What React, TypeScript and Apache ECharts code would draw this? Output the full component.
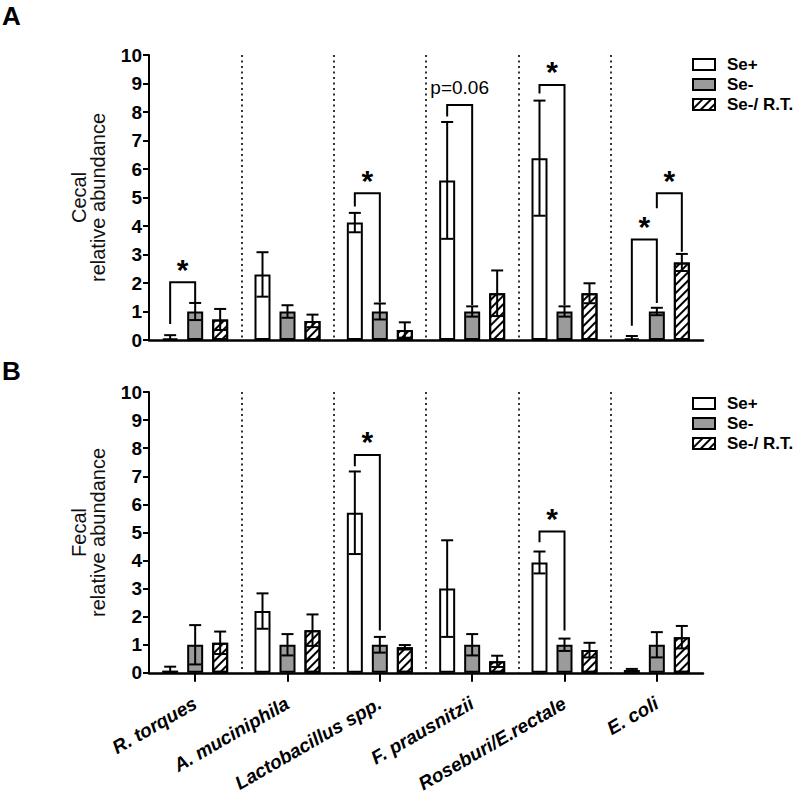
import React, { useEffect, useRef } from "react";
import * as echarts from "echarts";

// Taxa on the x axis
const categories = [
  "R. torques",
  "A. muciniphila",
  "Lactobacillus spp.",
  "F. prausnitzii",
  "Roseburi/E.rectale",
  "E. coli",
];
const groups = ["Se+", "Se-", "Se-/ R.T."];
const yTicks = [0, 1, 2, 3, 4, 5, 6, 7, 8, 9, 10];

// Cecal relative abundance (mean, SEM)
const cecalSePlus = [0.05, 2.3, 4.12, 5.6, 6.38, 0.06];
const cecalSePlusErr = [0.12, 0.78, 0.34, 2.05, 2.02, 0.08];
const cecalSeMinus = [1, 1, 1, 1, 1, 1];
const cecalSeMinusErr = [0.3, 0.22, 0.28, 0.18, 0.18, 0.13];
const cecalRT = [0.72, 0.67, 0.35, 1.64, 1.64, 2.72];
const cecalRTErr = [0.37, 0.22, 0.27, 0.8, 0.35, 0.3];

// Fecal relative abundance (mean, SEM)
const fecalSePlus = [0.08, 2.2, 5.7, 3.0, 3.93, 0.1];
const fecalSePlusErr = [0.14, 0.63, 1.47, 1.72, 0.39, 0.04];
const fecalSeMinus = [1, 1, 1, 1, 1, 1];
const fecalSeMinusErr = [0.7, 0.38, 0.28, 0.38, 0.22, 0.45];
const fecalRT = [1.07, 1.52, 0.91, 0.41, 0.81, 1.27];
const fecalRTErr = [0.4, 0.56, 0.08, 0.2, 0.26, 0.4];

// Significance brackets: [category, left bar, right bar, left leg bottom, top, right leg bottom]
const cecalBrackets = [
  [0, 0, 1, 0.56, 2.03, 1.32],
  [2, 0, 1, 4.68, 5.15, 1.32],
  [3, 0, 1, 7.84, 8.25, 1.23],
  [4, 0, 1, 8.65, 8.95, 1.22],
  [5, 0, 1, 0.5, 3.53, 1.3],
  [5, 1, 2, 4.62, 5.15, 3.1],
];
const cecalBracketLabels = ["*", "*", "p=0.06", "*", "*", "*"];
const fecalBrackets = [
  [2, 0, 1, 7.36, 7.76, 1.51],
  [4, 0, 1, 4.65, 5.03, 1.51],
];
const fecalBracketLabels = ["*", "*"];

const FONT = "'Liberation Sans', Arial, sans-serif";
const BAR_W = 16;
const GAP = 9;
const STEP = BAR_W + GAP;
const CAP = 6;
const GRAY = "#9b9b9b";

const hatch = {
  symbol: "rect",
  symbolSize: 1,
  color: "#000",
  backgroundColor: "#fff",
  dashArrayX: [1, 0],
  dashArrayY: [1.6, 3.2],
  rotation: -Math.PI / 4,
};

const groupStyles = [
  { color: "#fff", borderColor: "#000", borderWidth: 2 },
  { color: GRAY, borderColor: "#000", borderWidth: 2 },
  { color: "#fff", borderColor: "#000", borderWidth: 2, decal: hatch },
];

function errorRows(means: number[][], errs: number[][]) {
  const rows: number[][] = [];
  means.forEach((m, gi) => {
    m.forEach((v, ci) => rows.push([ci, gi, v, errs[gi][ci]]));
  });
  return rows;
}

const lineStyle = { stroke: "#000", lineWidth: 2, fill: null };

function renderError(params: any, api: any) {
  const cat = api.value(0);
  const gi = api.value(1);
  const m = api.value(2);
  const e = api.value(3);
  const x = api.coord([cat, m])[0] + (gi - 1) * STEP;
  const yT = api.coord([cat, m + e])[1];
  const yB = api.coord([cat, Math.max(0, m - e)])[1];
  return {
    type: "group",
    children: [
      { type: "line", shape: { x1: x, y1: yT, x2: x, y2: yB }, style: lineStyle },
      { type: "line", shape: { x1: x - CAP, y1: yT, x2: x + CAP, y2: yT }, style: lineStyle },
      { type: "line", shape: { x1: x - CAP, y1: yB, x2: x + CAP, y2: yB }, style: lineStyle },
    ],
  };
}

function bracketRenderer(labels: string[]) {
  return (params: any, api: any) => {
    const cat = api.value(0);
    const lb = api.value(1);
    const rb = api.value(2);
    const c0 = api.coord([cat, 0])[0];
    const xL = c0 + (lb - 1) * STEP;
    const xR = c0 + (rb - 1) * STEP;
    const yLB = api.coord([cat, api.value(3)])[1];
    const yTop = api.coord([cat, api.value(4)])[1];
    const yRB = api.coord([cat, api.value(5)])[1];
    const label = labels[params.dataIndex];
    const star = label === "*";
    return {
      type: "group",
      children: [
        {
          type: "polyline",
          shape: { points: [[xL, yLB], [xL, yTop], [xR, yTop], [xR, yRB]] },
          style: lineStyle,
        },
        {
          type: "text",
          x: (xL + xR) / 2,
          y: star ? yTop + 2 : yTop - 8,
          style: {
            text: label,
            fill: "#000",
            font: star ? `bold 30px ${FONT}` : `19px ${FONT}`,
            align: "center",
            verticalAlign: "bottom",
          },
        },
      ],
    };
  };
}

function panelAxes(gridIndex: number, showLabels: boolean, title: string) {
  const xAxis = {
    type: "category",
    gridIndex,
    data: categories,
    axisLine: { lineStyle: { color: "#000", width: 2.5 } },
    axisTick: {
      show: showLabels,
      alignWithLabel: true,
      length: 9,
      lineStyle: { color: "#000", width: 2 },
    },
    axisLabel: {
      show: showLabels,
      rotate: 30,
      margin: 29,
      interval: 0,
      color: "#000",
      fontFamily: FONT,
      fontSize: 19,
      fontStyle: "italic",
      fontWeight: "bold",
    },
    splitLine: {
      show: true,
      showMinLine: false,
      showMaxLine: false,
      lineStyle: { color: "#333", width: 2, type: [2, 3.5] },
    },
  };
  const yAxis = {
    type: "value",
    gridIndex,
    min: yTicks[0],
    max: yTicks[yTicks.length - 1],
    interval: 1,
    name: title,
    nameLocation: "middle",
    nameRotate: 90,
    nameGap: 42,
    nameTextStyle: { fontFamily: FONT, fontSize: 20, lineHeight: 19, color: "#111" },
    axisLine: { show: true, lineStyle: { color: "#000", width: 2 } },
    axisTick: { show: true, length: 6, lineStyle: { color: "#000", width: 2 } },
    axisLabel: {
      margin: 7,
      color: "#000",
      fontFamily: FONT,
      fontSize: 19,
      fontWeight: "bold",
    },
    splitLine: { show: false },
  };
  return { xAxis, yAxis };
}

function barSeries(idx: number, values: number[][]) {
  return values.map((vals, gi) => ({
    type: "bar",
    name: groups[gi],
    xAxisIndex: idx,
    yAxisIndex: idx,
    data: vals,
    barWidth: BAR_W,
    barGap: `${(GAP / BAR_W) * 100}%`,
    itemStyle: groupStyles[gi],
    z: 2,
  }));
}

function legendFor(top: number) {
  return {
    orient: "vertical",
    left: 687,
    top,
    itemWidth: 22,
    itemHeight: 11,
    itemGap: 3,
    icon: "rect",
    selectedMode: false,
    textStyle: {
      fontFamily: FONT,
      fontSize: 17,
      fontWeight: "bold",
      color: "#000",
      padding: [0, 0, 0, 7],
    },
    data: groups.map((g, gi) => ({ name: g, itemStyle: groupStyles[gi] })),
  };
}

export default function App() {
  const ref = useRef<HTMLDivElement>(null);

  useEffect(() => {
    if (!ref.current) return;
    const chart = echarts.init(ref.current, null, { renderer: "svg" });

    const a = panelAxes(0, false, "Cecal\nrelative abundance");
    const b = panelAxes(1, true, "Fecal\nrelative abundance");

    const cecalMeans = [cecalSePlus, cecalSeMinus, cecalRT];
    const cecalErrs = [cecalSePlusErr, cecalSeMinusErr, cecalRTErr];
    const fecalMeans = [fecalSePlus, fecalSeMinus, fecalRT];
    const fecalErrs = [fecalSePlusErr, fecalSeMinusErr, fecalRTErr];

    chart.setOption({
      animation: false,
      backgroundColor: "#fff",
      grid: [
        { left: 149, right: 94, top: 55, bottom: 455 },
        { left: 149, right: 94, top: 392, bottom: 117 },
      ],
      xAxis: [a.xAxis, b.xAxis],
      yAxis: [a.yAxis, b.yAxis],
      legend: [legendFor(51), legendFor(390)],
      graphic: [
        {
          type: "text",
          left: 2,
          top: 3,
          style: { text: "A", font: `bold 26px ${FONT}`, fill: "#000" },
        },
        {
          type: "text",
          left: 2,
          top: 358,
          style: { text: "B", font: `bold 26px ${FONT}`, fill: "#000" },
        },
      ],
      series: [
        ...barSeries(0, cecalMeans),
        ...barSeries(1, fecalMeans),
        {
          type: "custom",
          xAxisIndex: 0,
          yAxisIndex: 0,
          renderItem: renderError,
          data: errorRows(cecalMeans, cecalErrs),
          encode: { x: 0, y: 2 },
          z: 5,
          silent: true,
        },
        {
          type: "custom",
          xAxisIndex: 1,
          yAxisIndex: 1,
          renderItem: renderError,
          data: errorRows(fecalMeans, fecalErrs),
          encode: { x: 0, y: 2 },
          z: 5,
          silent: true,
        },
        {
          type: "custom",
          xAxisIndex: 0,
          yAxisIndex: 0,
          renderItem: bracketRenderer(cecalBracketLabels),
          data: cecalBrackets,
          encode: { x: 0, y: 4 },
          clip: false,
          z: 6,
          silent: true,
        },
        {
          type: "custom",
          xAxisIndex: 1,
          yAxisIndex: 1,
          renderItem: bracketRenderer(fecalBracketLabels),
          data: fecalBrackets,
          encode: { x: 0, y: 4 },
          clip: false,
          z: 6,
          silent: true,
        },
      ],
    });

    return () => chart.dispose();
  }, []);

  return (
    <div
      ref={ref}
      style={{ position: "absolute", left: 0, top: 0, width: 797, height: 795 }}
    />
  );
}
